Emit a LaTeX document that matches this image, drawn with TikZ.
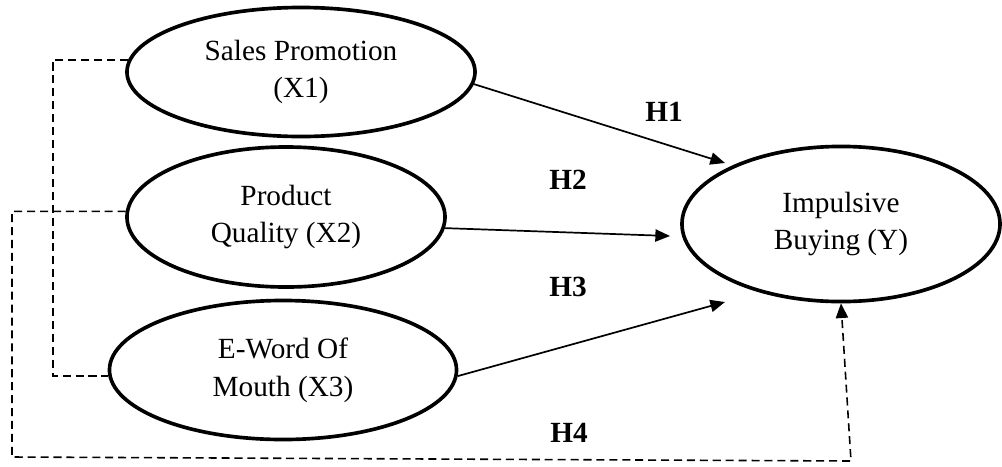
\documentclass[tikz,border=0pt]{standalone}
\usepackage{fontspec}
\setmainfont{Liberation Serif}
\usepackage{tikz}
\usetikzlibrary{shapes.geometric, arrows.meta}

\tikzset{
    construct/.style={ellipse, draw, line width=1.5pt, inner sep=0pt, align=center, font=\fontsize{12}{15.5}\selectfont},
    hypo/.style={-{Triangle[length=6pt, width=5pt]}, line width=0.7pt},
    linkline/.style={line width=0.65pt, dash pattern=on 3.3pt off 2pt},
    hlabel/.style={font=\fontsize{12}{14}\selectfont\bfseries}
}

\begin{document}
\begin{tikzpicture}[x=0.41pt, y=-0.41pt]
    \useasboundingbox (0,0) rectangle (1002,466);

    % Define the constructs
    \node[construct, minimum width=142.7pt, minimum height=52.9pt] (X1) at (301,72) {Sales Promotion\\(X1)};
    \node[construct, minimum width=130.4pt, minimum height=57.4pt] (X2) at (286,217) {Product\\Quality (X2)};
    \node[construct, minimum width=142.3pt, minimum height=57pt] (X3) at (283,370) {E-Word Of\\Mouth (X3)};
    \node[construct, minimum width=130.4pt, minimum height=63.6pt] (Y) at (841,224) {Impulsive\\Buying (Y)};

    % Free ends of the arrows
    \coordinate (h1end) at (725,163);
    \coordinate (h2end) at (670,236);
    \coordinate (h3end) at (725,302);
    \coordinate (bl) at (12,457);
    \coordinate (br) at (851,461);

    % Direct effects
    \draw[hypo] (X1.-4) -- (h1end);
    \draw[hypo] (X2.-4) -- (h2end);
    \draw[hypo] (X3.-2) -- (h3end);

    % Simultaneous effect
    \draw[linkline] (X1.176) -- ++(-75,0) |- (X3.182);
    \draw[linkline, -{Triangle[length=6pt, width=5pt]}] (X2.178) -| (bl) -- (br) -- (Y.south);

    % Hypothesis labels
    \node[hlabel] (H1) at (664,112) {H1};
    \node[hlabel] (H2) at (568,180) {H2};
    \node[hlabel] (H3) at (568,287) {H3};
    \node[hlabel] (H4) at (569,433) {H4};
\end{tikzpicture}
\end{document}
